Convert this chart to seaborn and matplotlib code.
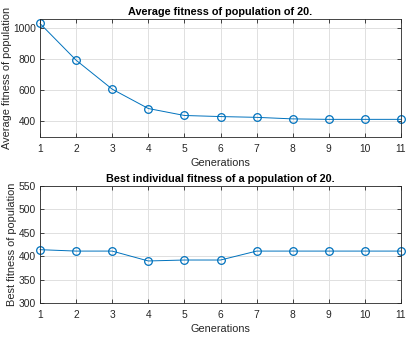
import numpy as np
import pandas as pd
import matplotlib
matplotlib.use("Agg")
import matplotlib.pyplot as plt
import seaborn as sns

# ------------------------------------------------------------------------
# Data
# ------------------------------------------------------------------------
generations = [1, 2, 3, 4, 5, 6, 7, 8, 9, 10, 11]
avg_fitness = [1031, 794, 607, 482, 437, 430, 425, 415, 412, 412, 412]
best_fitness = [414, 411, 411, 390, 392, 392, 411, 411, 411, 411, 411]

df = pd.DataFrame({"Generations": generations,
                   "avg": avg_fitness,
                   "best": best_fitness})

# ------------------------------------------------------------------------
# MATLAB-like styling
# ------------------------------------------------------------------------
sns.set_style("whitegrid")
plt.rcParams['font.family'] = ['Liberation Sans', 'DejaVu Sans']
line_color = "#0072BD"
axis_color = "#262626"

fig = plt.figure(figsize=(4.15, 3.38), dpi=100)
ax1 = fig.add_axes([40 / 415, 1 - 136.7 / 338, 361 / 415, 117.4 / 338])
ax2 = fig.add_axes([40 / 415, 1 - 303.3 / 338, 361 / 415, 117.6 / 338])


def style_axes(ax, title, ylabel, ylim, yticks):
    ax.set_xlim(1, 11)
    ax.set_ylim(*ylim)
    ax.set_xticks(generations)
    ax.set_yticks(yticks)
    ax.set_title(title, fontsize=7.8, fontweight="bold", color="black", pad=3)
    ax.set_xlabel("Generations", fontsize=7.8, color=axis_color, labelpad=3)
    ax.set_ylabel(ylabel, fontsize=7.9, color=axis_color, labelpad=1)
    ax.grid(True, color="#e0e0e0", linewidth=0.7)
    ax.set_facecolor("white")
    for sp in ax.spines.values():
        sp.set_visible(True)
        sp.set_color(axis_color)
        sp.set_linewidth(0.6)
    ax.tick_params(direction="in", length=3, width=0.6, labelsize=7.4,
                   colors=axis_color, top=True, right=True,
                   bottom=True, left=True)
    ax.tick_params(axis="x", pad=5)
    ax.tick_params(axis="y", pad=3)


sns.lineplot(data=df, x="Generations", y="avg", ax=ax1, color=line_color,
             linewidth=0.7, marker="o", markersize=5.5, markerfacecolor="none",
             markeredgecolor=line_color, markeredgewidth=0.9, clip_on=False)
style_axes(ax1, "Average fitness of population of 20.",
           "Average fitness of population", (300, 1058), [400, 600, 800, 1000])

sns.lineplot(data=df, x="Generations", y="best", ax=ax2, color=line_color,
             linewidth=0.7, marker="o", markersize=5.5, markerfacecolor="none",
             markeredgecolor=line_color, markeredgewidth=0.9, clip_on=False)
style_axes(ax2, "Best individual fitness of a population of 20.",
           "Best fitness of population", (300, 550),
           [300, 350, 400, 450, 500, 550])

fig.savefig("out.png", dpi=100)
plt.close(fig)
